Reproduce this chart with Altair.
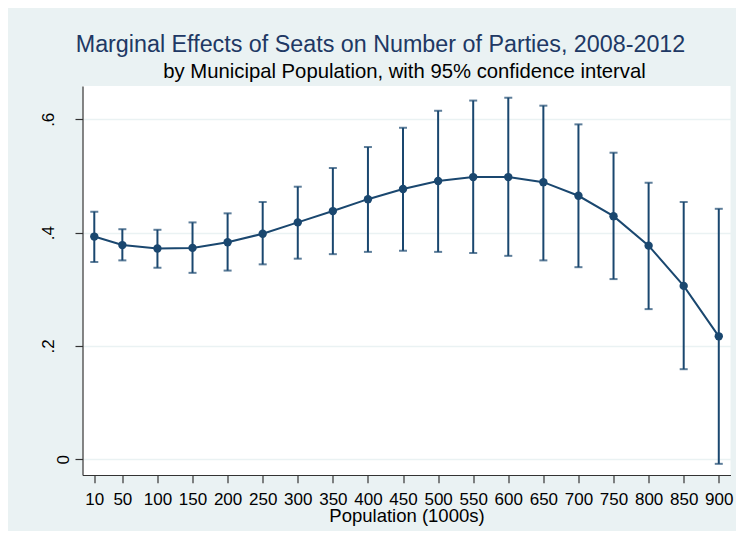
import altair as alt
import pandas as pd

# ---- data ----
population = [10, 50, 100, 150, 200, 250, 300, 350, 400, 450, 500,
              550, 600, 650, 700, 750, 800, 850, 900]
effect = [0.393, 0.378, 0.372, 0.373, 0.383, 0.398, 0.418, 0.438, 0.459, 0.477,
          0.491, 0.498, 0.498, 0.489, 0.465, 0.429, 0.377, 0.306, 0.217]
ci_upper = [0.437, 0.406, 0.405, 0.418, 0.434, 0.454, 0.481, 0.514, 0.551, 0.585,
            0.615, 0.633, 0.638, 0.624, 0.591, 0.541, 0.488, 0.454, 0.442]
ci_lower = [0.348, 0.351, 0.338, 0.329, 0.333, 0.344, 0.354, 0.362, 0.366, 0.368,
            0.366, 0.364, 0.359, 0.351, 0.339, 0.318, 0.265, 0.159, -0.008]
y_ticks = [0, 0.2, 0.4, 0.6]

title_text = "Marginal Effects of Seats on Number of Parties, 2008-2012"
subtitle_text = "by Municipal Population, with 95% confidence interval"
x_title = "Population (1000s)"

df = pd.DataFrame({"pop": population, "eff": effect, "lo": ci_lower, "hi": ci_upper})

NAVY = "#1A476F"
FONT = "Liberation Sans, Arial, Helvetica, sans-serif"
W, H = 648, 389

xscale = alt.Scale(domain=[-6.8, 916.7], nice=False, zero=False)
yscale = alt.Scale(domain=[-0.0277, 0.6587], nice=False, zero=False)

xaxis = alt.Axis(
    values=population, title=x_title, grid=False,
    labelFontSize=17, labelFont=FONT, labelColor="#000000",
    labelBaseline="alphabetic", labelPadding=21.6, labelFlush=False,
    labelOverlap=False, labelBound=False,
    tickSize=7.7, tickColor="#333333", tickWidth=1.2,
    domainColor="#333333", domainWidth=1.2,
    titleFont=FONT, titleFontSize=18.5, titleFontWeight="normal", titleColor="#000000",
    titleBaseline="alphabetic", titleY=46.9,
)
yaxis = alt.Axis(
    values=y_ticks, title=None, grid=True,
    gridColor="#EAF2F3", gridWidth=1.6,
    labelExpr="datum.value == 0 ? '0' : replace(format(datum.value, '.1f'), '0.', '.')",
    labelFontSize=17, labelFont=FONT, labelColor="#000000",
    labelAngle=270, labelAlign="center", labelBaseline="alphabetic",
    labelOverlap=False,
    labelPadding={"condition": {"test": "datum.value == 0", "value": 6.7}, "value": 21.5},
    tickSize=7.5, tickColor="#333333", tickWidth=1.2,
    domainColor="#333333", domainWidth=1.2,
)

X = alt.X("pop:Q", scale=xscale, axis=xaxis)


def Y(field):
    return alt.Y(field, scale=yscale, axis=yaxis)


base = alt.Chart(df)

bars = base.mark_rule(color=NAVY, strokeWidth=2).encode(x=X, y=Y("lo:Q"), y2="hi:Q")
cap_hi = base.mark_tick(color=NAVY, orient="horizontal", size=8, thickness=2).encode(
    x=X, y=Y("hi:Q"))
cap_lo = base.mark_tick(color=NAVY, orient="horizontal", size=8, thickness=2).encode(
    x=X, y=Y("lo:Q"))
line = base.mark_line(color=NAVY, strokeWidth=2).encode(x=X, y=Y("eff:Q"))
points = base.mark_point(color=NAVY, filled=True, opacity=1, size=70).encode(
    x=X, y=Y("eff:Q"))

titles = pd.DataFrame({"t": [title_text]})
subs = pd.DataFrame({"t": [subtitle_text]})

title_mark = alt.Chart(titles).mark_text(
    font=FONT, fontSize=23.3, color="#203864", align="center", baseline="alphabetic"
).encode(text="t:N", x=alt.value(W / 2 - 26), y=alt.value(51.7 - 86))

sub_mark = alt.Chart(subs).mark_text(
    font=FONT, fontSize=20.3, color="#000000", align="center", baseline="alphabetic"
).encode(text="t:N", x=alt.value(W / 2 - 2), y=alt.value(78.3 - 86))

chart = alt.layer(bars, cap_hi, cap_lo, line, points, title_mark, sub_mark).properties(
    width=W, height=H,
    autosize=alt.AutoSizeParams(type="none"),
    padding={"left": 74.5, "top": 78, "right": 5.5, "bottom": 56},
).configure(
    background="#EAF2F3",
).configure_view(
    fill="#FFFFFF", stroke=None,
)

chart.save("out.html", embed_options={"renderer": "svg", "actions": False})
